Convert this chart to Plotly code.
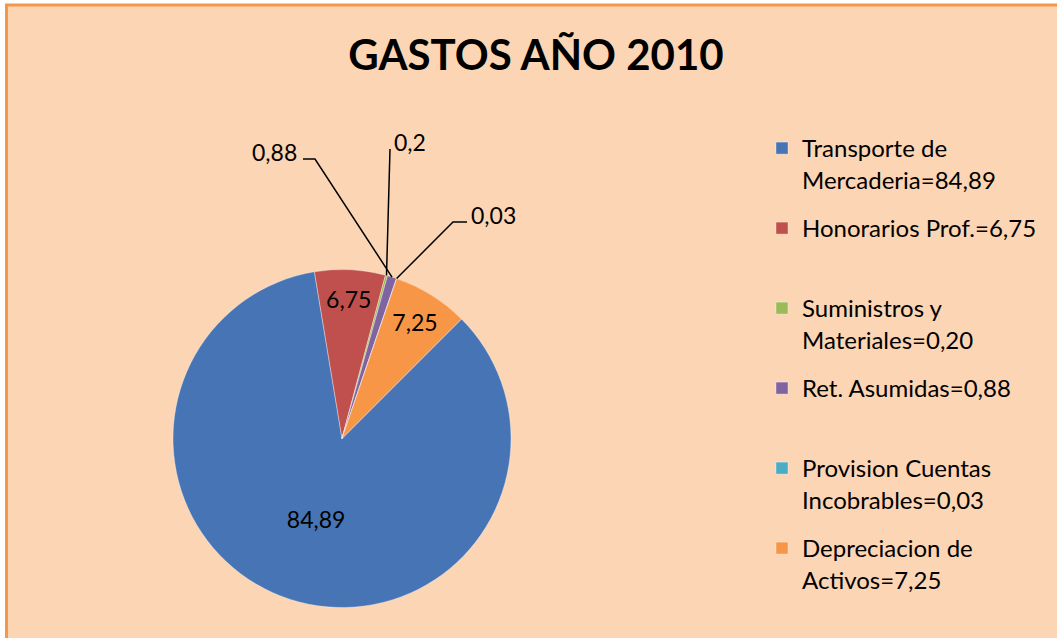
import math
import plotly.graph_objects as go

# ---- data ----
categories = [
    "Transporte de<br>Mercaderia",
    "Honorarios Prof.",
    "Suministros y<br>Materiales",
    "Ret. Asumidas",
    "Provision Cuentas<br>Incobrables",
    "Depreciacion de<br>Activos",
]
values = [84.89, 6.75, 0.20, 0.88, 0.03, 7.25]
title_text = "GASTOS AÑO 2010"

# ---- styling / layout constants ----
colors = ["#4674B4", "#C0504D", "#9BBB59", "#8064A2", "#4BACC6", "#F79646"]
W, H = 1057, 638
CX, CY, R = 342, 438.5, 169      # pie centre / radius in px
ROT = 45                          # start angle of first slice (clockwise from 12 o'clock)
FONT = "Lato"
inside = [True, True, False, False, False, True]
# label anchors (px) for the outside labels, and leader-line elbows
outside_labels = {
    2: dict(text_xy=(410, 142), path=[(390, 149)]),
    3: dict(text_xy=(274, 152), path=[(303, 159), (315, 159)]),
    4: dict(text_xy=(493, 215), path=[(467, 222), (453, 222)]),
}


def fmt_general(v):
    return f"{v:g}".replace(".", ",")


def fmt2(v):
    return f"{v:.2f}".replace(".", ",")


def px2paper(x, y):
    return x / W, 1 - y / H


legend_labels = []
for c, v in zip(categories, values):
    lab = f"{c}={fmt2(v)}"
    if "<br>" not in lab:
        lab += "<br> "
    legend_labels.append(lab)

texts = [fmt_general(v) for v in values]
textpos = ["inside" if f else "none" for f in inside]

dx0, dy0 = px2paper(CX - R, CY + R)
dx1, dy1 = px2paper(CX + R, CY - R)

fig = go.Figure()
fig.add_trace(go.Pie(
    labels=legend_labels,
    values=values,
    text=texts,
    textinfo="text",
    textposition=textpos,
    insidetextorientation="horizontal",
    textfont=dict(family=FONT, size=23, color="black"),
    sort=False,
    direction="clockwise",
    rotation=ROT,
    marker=dict(colors=colors, line=dict(color="rgba(255,255,255,0.35)", width=1)),
    domain=dict(x=[dx0, dx1], y=[dy0, dy1]),
    hoverinfo="skip",
))
# empty, invisible legend spacer: lets each pie slice be its own legend group
fig.add_trace(go.Scatter(
    x=[None], y=[None], mode="markers", name=" ", legendgroup="spacer",
    marker=dict(color="rgba(0,0,0,0)", opacity=0), showlegend=True, hoverinfo="skip",
))

shapes = [
    dict(type="rect", xref="paper", yref="paper",
         x0=6.5 / W, x1=1.05, y0=-0.05, y1=1 - 5 / H,
         fillcolor="#FCD5B4", line=dict(color="#F79646", width=3), layer="below"),
]
annotations = []
total = sum(values)
cum = 0.0
for i, v in enumerate(values):
    mid = ROT + (cum + v / 2) / total * 360
    cum += v
    if i not in outside_labels:
        continue
    a = math.radians(mid)
    ex, ey = CX + R * math.sin(a), CY - R * math.cos(a)
    info = outside_labels[i]
    pts = [(ex, ey)] + list(reversed(info["path"]))
    pts = [px2paper(x, y) for x, y in pts]
    d = "M " + " L ".join(f"{x:.5f},{y:.5f}" for x, y in pts)
    shapes.append(dict(type="path", xref="paper", yref="paper", path=d,
                       line=dict(color="black", width=1.5), layer="above"))
    tx, ty = px2paper(*info["text_xy"])
    annotations.append(dict(x=tx, y=ty, xref="paper", yref="paper", text=texts[i],
                            showarrow=False, xanchor="center", yanchor="middle",
                            font=dict(family=FONT, size=23, color="black")))

fig.update_layout(
    width=W, height=H,
    margin=dict(l=0, r=0, t=0, b=0, autoexpand=False),
    paper_bgcolor="white",
    plot_bgcolor="rgba(0,0,0,0)",
    hovermode=False,
    xaxis=dict(visible=False),
    yaxis=dict(visible=False),
    title=dict(text=f"<b>{title_text}</b>", x=536 / W, xanchor="center",
               y=1 - 55 / H, yanchor="middle", yref="container",
               font=dict(family=FONT, size=42, color="black")),
    legend=dict(x=762 / W, y=1 - 126 / H, xanchor="left", yanchor="top",
                font=dict(family=FONT, size=24, color="black"),
                traceorder="grouped", tracegroupgap=14.6, valign="top",
                bgcolor="rgba(0,0,0,0)"),
    shapes=shapes,
    annotations=annotations,
)

fig.write_html("out.html", config={"displayModeBar": False},
               post_script="document.body.style.margin='0';")
